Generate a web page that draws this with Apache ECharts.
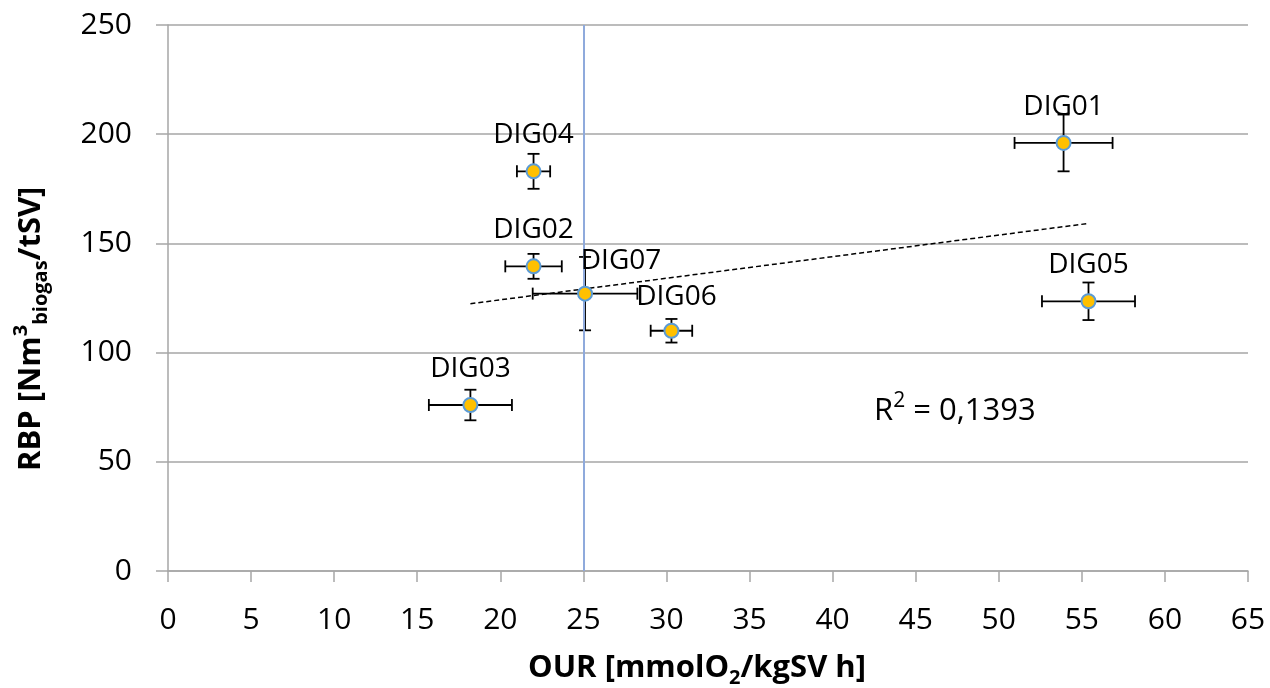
<!DOCTYPE html>
<html><head><meta charset="utf-8">
<script src="https://cdn.jsdelivr.net/npm/echarts@6/dist/echarts.min.js"></script>
<style>html,body{margin:0;padding:0;background:#fff}#c{width:1270px;height:688px}</style>
</head><body><div id="c"></div>
<script>
// ---- data ----
const names      = ['DIG01', 'DIG02', 'DIG03', 'DIG04', 'DIG05', 'DIG06', 'DIG07'];
const ourValues  = [53.9, 22.0, 18.2, 22.0, 55.4, 30.3, 25.1];
const rbpValues  = [196, 139.5, 76, 183, 123.5, 110, 127];
const ourErrors  = [2.95, 1.7, 2.5, 1.0, 2.8, 1.25, 3.15];
const rbpErrors  = [13, 5.7, 7, 8, 8.6, 5.4, 16.8];
const xAxisMin = 0, xAxisMax = 65, xAxisStep = 5;
const yAxisMin = 0, yAxisMax = 250, yAxisStep = 50;
const referenceOUR = 25;
const r2Value = '0,1393';

// ---- styling ----
const FONT = "'Open Sans', 'Liberation Sans', sans-serif";
const GRID_COLOR = '#a6a6a6';
const labelOffsets = { DIG07: [36, -33], DIG06: [5, -34] };

// linear regression (trendline) from data
const n = ourValues.length;
const mx = ourValues.reduce((a, b) => a + b, 0) / n;
const my = rbpValues.reduce((a, b) => a + b, 0) / n;
let sxy = 0, sxx = 0;
for (let i = 0; i < n; i++) { sxy += (ourValues[i] - mx) * (rbpValues[i] - my); sxx += (ourValues[i] - mx) ** 2; }
const slope = sxy / sxx, intercept = my - slope * mx;
const xMinData = Math.min(...ourValues), xMaxData = Math.max(...ourValues);
const trendData = [[xMinData, intercept + slope * xMinData], [xMaxData, intercept + slope * xMaxData]];

const scatterData = names.map((nm, i) => ({
  name: nm,
  value: [ourValues[i], rbpValues[i]],
  label: { offset: labelOffsets[nm] || [0, -36] }
}));
const errData = names.map((nm, i) => [ourValues[i], rbpValues[i], ourErrors[i], rbpErrors[i]]);

const chart = echarts.init(document.getElementById('c'), null, { renderer: 'canvas' });
const CAP = 6;
chart.setOption({
  animation: false,
  backgroundColor: '#ffffff',
  grid: { left: 168, right: 22, top: 25, bottom: 117, containLabel: false, outerBoundsMode: 'none' },
  xAxis: {
    type: 'value', min: xAxisMin, max: xAxisMax, interval: xAxisStep,
    name: '{n|OUR [mmolO}{sub|2}{n|/kgSV h]}',
    nameLocation: 'middle', nameGap: 77, nameMoveOverlap: false,
    nameTextStyle: {
      padding: [0, 22, 0, 0],
      rich: {
        n: { fontFamily: FONT, fontSize: 31, fontWeight: 'bold', color: '#000', lineHeight: 40 },
        sub: { fontFamily: FONT, fontSize: 20, fontWeight: 'bold', color: '#000', lineHeight: 20, verticalAlign: 'bottom' }
      }
    },
    axisLine: { show: true, lineStyle: { color: GRID_COLOR, width: 1.5 } },
    axisTick: { show: true, length: 11, lineStyle: { color: GRID_COLOR, width: 1.5 } },
    axisLabel: { fontFamily: FONT, fontSize: 30, color: '#000', margin: 34 },
    splitLine: { show: false }
  },
  yAxis: {
    type: 'value', min: yAxisMin, max: yAxisMax, interval: yAxisStep,
    axisLine: { show: true, lineStyle: { color: GRID_COLOR, width: 1.5 } },
    axisTick: { show: true, length: 12, lineStyle: { color: GRID_COLOR, width: 1.5 } },
    axisLabel: { fontFamily: FONT, fontSize: 30, color: '#000', margin: 36 },
    splitLine: { show: true, lineStyle: { color: GRID_COLOR, width: 1.5 } }
  },
  graphic: [
    {
      type: 'text', x: 874, y: 411,
      style: {
        text: '{n|R}{sup|2}{n| = ' + r2Value + '}',
        verticalAlign: 'middle', align: 'left',
        rich: {
          n: { fontFamily: FONT, fontSize: 31, fill: '#000', lineHeight: 40 },
          sup: { fontFamily: FONT, fontSize: 21, fill: '#000', lineHeight: 26, verticalAlign: 'top' }
        }
      }
    },
    {
      type: 'text', x: 31, y: 471, rotation: Math.PI / 2,
      style: {
        text: '{n|RBP [Nm}{sup|3}{sub|biogas}{n|/tSV]}',
        align: 'left', verticalAlign: 'middle',
        rich: {
          n: { fontFamily: FONT, fontSize: 31, fontWeight: 'bold', fill: '#000', lineHeight: 40 },
          sup: { fontFamily: FONT, fontSize: 20, fontWeight: 'bold', fill: '#000', lineHeight: 24, verticalAlign: 'top' },
          sub: { fontFamily: FONT, fontSize: 20, fontWeight: 'bold', fill: '#000', lineHeight: 20, verticalAlign: 'bottom' }
        }
      }
    }
  ],
  series: [
    {
      type: 'line', data: trendData, symbol: 'none', silent: true, z: 3,
      lineStyle: { color: '#000', width: 1.5, type: [5, 3] },
      markLine: {
        silent: true, symbol: 'none', label: { show: false },
        lineStyle: { color: '#8faadc', width: 2, type: 'solid' },
        data: [{ xAxis: referenceOUR }]
      }
    },
    {
      type: 'custom', data: errData, z: 4, silent: true,
      renderItem: function (params, api) {
        const x = api.value(0), y = api.value(1), ex = api.value(2), ey = api.value(3);
        const l = api.coord([x - ex, y]), r = api.coord([x + ex, y]);
        const t = api.coord([x, y + ey]), b = api.coord([x, y - ey]);
        const st = { stroke: '#000', lineWidth: 1.8 };
        return {
          type: 'group', children: [
            { type: 'line', shape: { x1: l[0], y1: l[1], x2: r[0], y2: r[1] }, style: st },
            { type: 'line', shape: { x1: l[0], y1: l[1] - CAP, x2: l[0], y2: l[1] + CAP }, style: st },
            { type: 'line', shape: { x1: r[0], y1: r[1] - CAP, x2: r[0], y2: r[1] + CAP }, style: st },
            { type: 'line', shape: { x1: t[0], y1: t[1], x2: b[0], y2: b[1] }, style: st },
            { type: 'line', shape: { x1: t[0] - CAP, y1: t[1], x2: t[0] + CAP, y2: t[1] }, style: st },
            { type: 'line', shape: { x1: b[0] - CAP, y1: b[1], x2: b[0] + CAP, y2: b[1] }, style: st }
          ]
        };
      }
    },
    {
      type: 'scatter', data: scatterData, z: 10, symbol: 'circle', symbolSize: 14,
      itemStyle: { color: '#ffc000', borderColor: '#5b9bd5', borderWidth: 2, opacity: 1 },
      label: {
        show: true, position: 'inside', formatter: '{b}',
        fontFamily: FONT, fontSize: 28, color: '#000'
      }
    }
  ]
});
</script>
</body></html>
